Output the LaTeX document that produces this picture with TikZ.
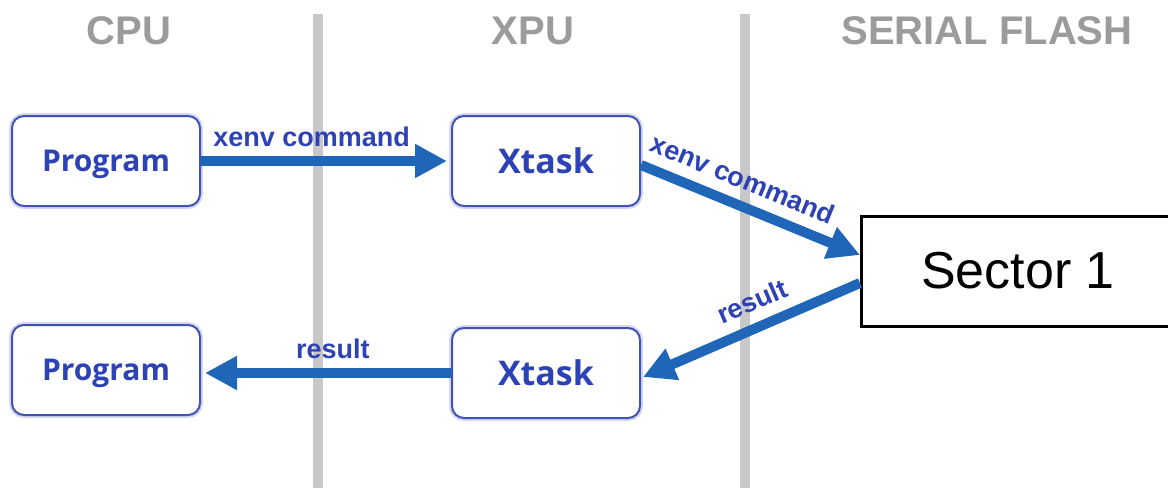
\documentclass[tikz,border=0pt]{standalone}
\usepackage{fontspec}
\setmainfont{Liberation Sans}
\newfontfamily\boxfont{Open Sans}
\usetikzlibrary{arrows.meta,shadows}
\definecolor{arrblue}{RGB}{31,102,184}
\definecolor{lblblue}{RGB}{45,66,180}
\definecolor{boxblue}{RGB}{64,82,184}
\definecolor{hdrgray}{RGB}{155,155,155}
\definecolor{bargray}{RGB}{200,200,200}
\tikzset{
  hdr/.style={font=\fontsize{20}{24}\selectfont\bfseries, text=hdrgray},
  bar/.style={bargray, line width=5pt},
  pbox/.style={draw=boxblue, line width=1pt, rounded corners=6pt, fill=white,
     preaction={draw=boxblue!22, line width=3pt},
     minimum width=94pt, minimum height=45pt, text=lblblue, text depth=0pt,
     font=\boxfont\bfseries\fontsize{15}{18}\selectfont},
  xbox/.style={pbox, font=\boxfont\bfseries\fontsize{17}{20}\selectfont},
  secbox/.style={draw=black, line width=1.5pt, fill=white,
     drop shadow={shadow xshift=1pt, shadow yshift=-1pt, opacity=0.45},
     minimum width=156.5pt, minimum height=55pt,
     font=\fontsize{26}{30}\selectfont},
  arr/.style={arrblue, line width=5pt, -{Triangle[length=16pt,width=16pt]}},
  lbl/.style={text=lblblue, font=\fontsize{13.5}{16}\selectfont\bfseries, inner sep=1.5pt}
}
\begin{document}
\begin{tikzpicture}[x=0.5pt,y=-0.5pt]
\useasboundingbox (0,0) rectangle (1168,488);
% lane bars
\coordinate (b1t) at (318,14);
\coordinate (b1b) at (318,488);
\coordinate (b2t) at (745,14);
\coordinate (b2b) at (745,488);
\draw[bar] (b1t) -- (b1b);
\draw[bar] (b2t) -- (b2b);
% headers
\node[hdr] (hcpu) at (129,31) {CPU};
\node[hdr] (hxpu) at (533,31) {XPU};
\node[hdr] (hsf) at (987,31) {SERIAL FLASH};
% boxes
\node[pbox] (p1) at (106,161) {Program};
\node[xbox] (x1) at (546,161) {Xtask};
\node[pbox] (p2) at (106,370) {Program};
\node[xbox] (x2) at (546,373) {Xtask};
\node[secbox] (sec) at (1018,271) {Sector 1};
% arrows
\draw[arr] (p1.east) -- ([xshift=-2pt]x1.west)
   node[lbl, pos=0.45, above=3pt] {xenv command};
\draw[arr] ([yshift=-2pt]x1.east) -- ([yshift=8pt]sec.west)
   node[lbl, pos=0.42, sloped, above=4pt] {xenv command};
\draw[arr] ([yshift=-6pt]sec.west) -- ([xshift=1pt,yshift=-2pt]x2.east)
   node[lbl, pos=0.45, sloped, above=4pt] {result};
\draw[arr] ([yshift=-0pt]x2.west) -- ([xshift=2pt,yshift=-1.5pt]p2.east)
   node[lbl, pos=0.48, above=3pt] {result};
\end{tikzpicture}
\end{document}
